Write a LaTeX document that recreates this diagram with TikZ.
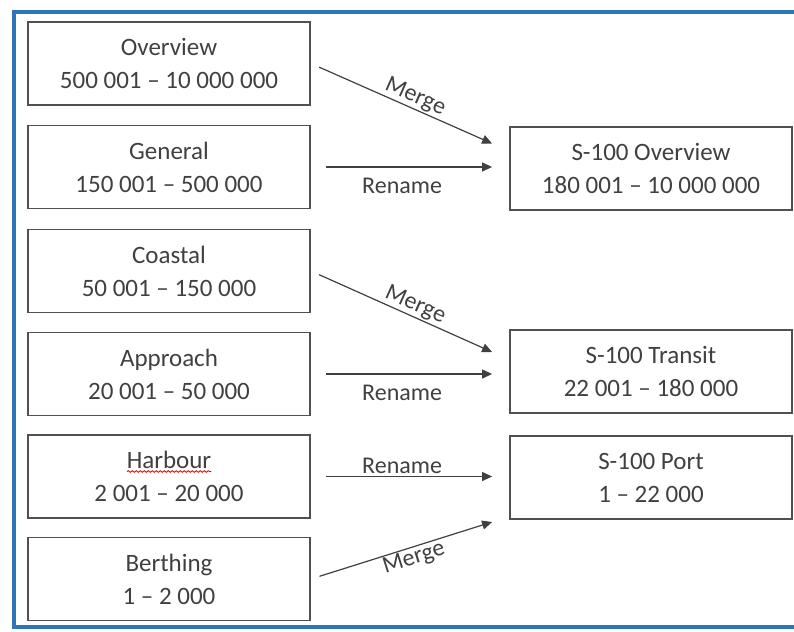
\documentclass[tikz,border=0pt]{standalone}
\usepackage{fontspec}
\setmainfont{Carlito}
\usetikzlibrary{arrows.meta,decorations.pathmorphing}

\definecolor{frameblue}{RGB}{46,117,182}
\definecolor{boxgray}{RGB}{80,80,80}
\definecolor{txtgray}{RGB}{64,64,64}

\begin{document}
\begin{tikzpicture}
  [x=1pt,y=-1pt,every node/.style={text=txtgray},
   box/.style={draw=boxgray,line width=1.8pt,minimum width=282pt,minimum height=83pt,
     align=center,font=\fontsize{25}{33}\selectfont},
   conn/.style={draw=txtgray,line width=1.2pt,-{Triangle[length=10pt,width=9pt]}},
   lab/.style={font=\fontsize{24}{28}\selectfont,inner sep=2pt}]
  \useasboundingbox (0,0) rectangle (794,631);
  \draw[frameblue,line width=4pt] (794,12) -- (14,12) -- (14,627) -- (794,627);

  \node[box] (ov) at (169, 63.5) {Overview\\500 001 – 10 000 000};
  \node[box] (gen) at (169, 167) {General\\150 001 – 500 000};
  \node[box] (coa) at (169, 271) {Coastal\\50 001 – 150 000};
  \node[box] (app) at (169, 374) {Approach\\20 001 – 50 000};
  \node[box] (har) at (169, 476.5) {Harbour\\2 001 – 20 000};
  \node[box] (ber) at (169, 579) {Berthing\\1 – 2 000};

  \node[box] (sov) at (651, 168.5) {S-100 Overview\\180 001 – 10 000 000};
  \node[box] (tra) at (651, 371.5) {S-100 Transit\\22 001 – 180 000};
  \node[box] (port) at (651, 477.5) {S-100 Port\\1 – 22 000};

  % spell-check mark under Harbour
  \draw[red!85!black,line width=.8pt,decorate,decoration={snake,amplitude=.8pt,segment length=4pt}]
    ([xshift=-42pt,yshift=5pt]har.center) -- ([xshift=42pt,yshift=5pt]har.center);

  \foreach \from/\to/\side/\gap in {gen/sov/below/-9,app/tra/below/-8,har/port/above/0}
    \draw[conn,shorten <=15pt,shorten >=17pt] (\from.east) -- (\from.east -| \to.west)
      node[lab,pos=.46,\side,yshift=\gap pt] {Rename};

  \foreach \from/\to/\dy/\side in {ov/sov/25/above,coa/tra/19.5/above,ber/port/-44.5/below}
    \draw[conn,shorten <=9pt] (\from.east) -- ([xshift=-17pt,yshift=\dy pt]\to.west)
      node[lab,sloped,pos=.55,\side,inner sep=1pt] {Merge};

\end{tikzpicture}
\end{document}
